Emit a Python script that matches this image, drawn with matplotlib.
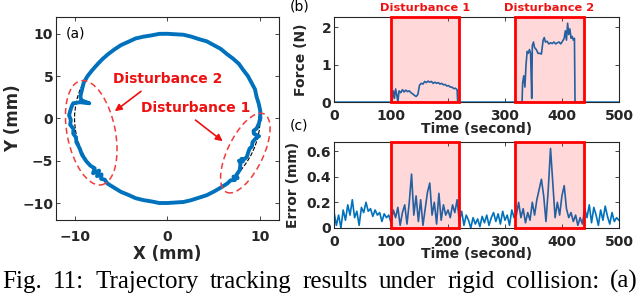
import numpy as np
import matplotlib.pyplot as plt
from matplotlib.patches import Circle, Ellipse, Rectangle

### trajectory, polar form: angle (deg), radius (mm)
traj_ang = [0, 5, 10, 15, 20, 25, 30, 35, 40, 45, 50, 55, 60, 65, 70, 75, 80, 85, 90,
            95, 100, 105, 110, 115, 120, 125, 130, 135, 140, 145, 150,
            155, 158, 160, 163, 165, 167, 168, 168.5, 170, 172, 175, 178, 181, 184, 187,
            190, 193, 196, 200, 205, 210, 214, 217, 219, 220, 222, 223, 225, 227, 230, 235,
            240, 245, 250, 255, 260, 265, 270, 275, 280, 285, 290, 295, 300,
            305, 310, 313, 315, 316, 317, 318, 320, 322, 324, 326, 327, 328, 329, 330,
            332, 335, 338, 340, 343, 346, 348, 349, 351, 353, 355, 357, 360]
traj_r = [10.0, 10.05, 10.0, 9.95, 10.05, 10.0, 10.02, 9.98, 10.05, 10.0, 9.95, 10.03, 10.0,
          10.05, 9.97, 10.0, 10.04, 9.98, 10.0, 10.03, 9.96, 10.0, 10.05, 9.98, 10.0, 9.95,
          9.92, 9.9, 9.88, 9.9, 9.95,
          9.95, 9.85, 9.8, 9.75, 9.7, 9.5, 8.6, 9.6, 10.3, 10.4, 10.5, 10.6, 10.4, 10.5, 10.2,
          10.3, 10.1, 10.2, 10.1, 10.15, 10.1, 10.0, 9.8, 10.3, 9.6, 10.2, 9.7, 10.1, 9.9,
          10.05, 10.0,
          10.02, 9.97, 10.03, 10.0, 9.96, 10.04, 10.0, 9.98, 10.03, 10.0, 9.97, 10.02, 10.0,
          10.0, 10.05, 10.0, 10.3, 9.9, 10.35, 10.0, 9.95, 9.9, 9.7, 9.5, 9.2, 9.6, 9.3, 9.6,
          9.7, 9.6, 9.55, 9.7, 9.6, 9.8, 10.1, 9.5, 9.4, 9.7, 9.8, 9.9, 10.0]

### panel (b): contact force
force_t = [0, 100, 102, 104, 106, 108, 110, 112, 114, 117, 120, 123, 126, 129, 132, 135,
           138, 141, 144, 147, 150, 153, 156, 159, 162, 165, 168, 171, 174, 177, 180, 183,
           186, 189, 192, 195, 198, 201, 204, 207, 210, 213, 216, 217,
           330, 331, 333, 335, 337, 339, 341, 343, 345, 347, 348, 350, 352, 355, 358, 361,
           364, 367, 369, 371, 374, 377, 380, 383, 386, 389, 392, 395, 398, 401, 404, 406,
           408, 410, 412, 414, 416, 418, 420, 422, 423, 500]
force_v = [0, 0, 0.05, 0.3, 0.1, 0.35, 0.2, 0.0, 0.3, 0.25, 0.33, 0.27, 0.32, 0.28, 0.30,
           0.25, 0.22, 0.18, 0.15, 0.2, 0.45, 0.5, 0.48, 0.55, 0.52, 0.56, 0.53, 0.55, 0.5,
           0.53, 0.5, 0.52, 0.48, 0.5, 0.46, 0.47, 0.43, 0.44, 0.4, 0.4, 0.36, 0.37, 0.33, 0.0,
           0.0, 0.5, 0.7, 0.4, 1.0, 1.35, 1.3, 1.4, 1.3, 0.1, 1.5, 1.6, 1.45, 1.4, 1.3, 1.3,
           1.28, 1.65, 1.72, 1.6, 1.62, 1.55, 1.58, 1.56, 1.6, 1.55, 1.58, 1.6, 1.55, 1.62,
           1.7, 1.9, 1.65, 2.1, 1.8, 1.95, 1.7, 1.75, 1.65, 1.7, 0.0, 0.0]

### panel (c): tracking error, one sample every 4 s
err_t = np.arange(0, 504, 4)
err_v = [0.12, 0.02, 0.10, 0.00, 0.14, 0.06, 0.18, 0.10, 0.22, 0.08, 0.13, 0.02, 0.16,
         0.12, 0.20, 0.13, 0.15, 0.09, 0.14, 0.10, 0.12, 0.05, 0.11, 0.08, 0.10,
         0.04, 0.14, 0.08, 0.16, 0.02, 0.12, 0.18, 0.03, 0.20, 0.42, 0.10, 0.25, 0.05,
         0.22, 0.02, 0.15, 0.28, 0.35, 0.10, 0.20, 0.03, 0.27, 0.06, 0.18, 0.10, 0.14,
         0.08, 0.18, 0.12, 0.22,
         0.05, 0.13, 0.02, 0.10, 0.06, 0.00, 0.08, 0.03, 0.07, 0.01, 0.09, 0.04, 0.10,
         0.02, 0.08, 0.12, 0.05, 0.11, 0.03, 0.13, 0.06, 0.10, 0.02, 0.14, 0.08,
         0.10, 0.20, 0.08, 0.15, 0.04, 0.12, 0.06, 0.20, 0.10, 0.22, 0.30, 0.38, 0.25,
         0.05, 0.30, 0.62, 0.35, 0.08, 0.20, 0.10, 0.25, 0.33, 0.15, 0.08, 0.12, 0.05,
         0.10, 0.02, 0.08, 0.03,
         0.15, 0.08, 0.18, 0.04, 0.16, 0.10, 0.02, 0.14, 0.06, 0.17, 0.09, 0.03, 0.12,
         0.05, 0.08, 0.06]

dist_start = [100, 318]
dist_end = [220, 438]
dist_names = ['Disturbance 1', 'Disturbance 2']

caption = 'Fig. 11: Trajectory tracking results under rigid collision: (a)'

blue = '#0072BD'
axcol = '#262626'
red = '#ee1111'
plt.rcParams['font.family'] = ['DejaVu Sans']
plt.rcParams['font.weight'] = 'bold'


def style_axes(ax, xpad):
    ax.tick_params(direction='in', top=True, right=True, length=3, width=0.6,
                   labelsize=10, colors=axcol, pad=2)
    ax.tick_params(axis='x', pad=xpad)
    for s in ax.spines.values():
        s.set_color(axcol)
        s.set_linewidth(0.8)
    for lab in ax.get_xticklabels() + ax.get_yticklabels():
        lab.set_fontweight('bold')


fig = plt.figure(figsize=(6.4, 2.96), dpi=100)

### (a) trajectory
ax1 = fig.add_axes([0.0875, 0.257, 0.348, 0.686])
ang = np.deg2rad(traj_ang)
tx = np.array(traj_r) * np.cos(ang)
ty = np.array(traj_r) * np.sin(ang)
ax1.add_patch(Circle((0, 0), 10, fill=False, ls='--', lw=0.8, color='k', zorder=1))
ax1.plot(tx, ty, color=blue, lw=2.8, zorder=2, solid_joinstyle='round')
ax1.add_patch(Ellipse((-8.2, -1.7), 5.2, 12.5, angle=10, fill=False, ls=(0, (4, 2.5)),
                      lw=1.1, color='#f03c3c', zorder=3))
ax1.add_patch(Ellipse((8.4, -4.1), 3.9, 10.1, angle=-23, fill=False, ls=(0, (4, 2.5)),
                      lw=1.1, color='#f03c3c', zorder=3))
ax1.text(0, 4.6, 'Disturbance 2', color=red, fontsize=10, fontweight='bold',
         ha='center', va='center')
ax1.text(3.05, 1.25, 'Disturbance 1', color=red, fontsize=10, fontweight='bold',
         ha='center', va='center')
ax1.annotate('', xy=(-5.9, 0.65), xytext=(-2.6, 3.4),
             arrowprops=dict(arrowstyle='-|>', color=red, lw=1.2, mutation_scale=10))
ax1.annotate('', xy=(6.2, -2.9), xytext=(2.8, 0.0),
             arrowprops=dict(arrowstyle='-|>', color=red, lw=1.2, mutation_scale=10))
ax1.text(-10.9, 10, '(a)', fontsize=10, fontweight='normal', va='center', ha='left')
ax1.set_xlim(-12, 12)
ax1.set_ylim(-12, 12)
ax1.set_xticks([-10, 0, 10])
ax1.set_yticks([-10, -5, 0, 5, 10])
ax1.set_xlabel('X (mm)', fontsize=12, fontweight='bold', color=axcol, labelpad=1)
ax1.set_ylabel('Y (mm)', fontsize=12, fontweight='bold', color=axcol, labelpad=0)
style_axes(ax1, 7)

### (b) force
ax2 = fig.add_axes([0.522, 0.655, 0.445, 0.288])
ax2.plot(force_t, force_v, color=blue, lw=1.2, zorder=2)
ax2.set_xlim(0, 500)
ax2.set_ylim(0, 2.27)
ax2.set_xticks([0, 100, 200, 300, 400, 500])
ax2.set_yticks([0, 1, 2])
ax2.set_xlabel('Time (second)', fontsize=10, fontweight='bold', color=axcol, labelpad=-1)
ax2.set_ylabel('Force (N)', fontsize=10, fontweight='bold', color=axcol, labelpad=10)
style_axes(ax2, 5)

### (c) error
ax3 = fig.add_axes([0.522, 0.23, 0.445, 0.29])
ax3.plot(err_t, err_v, color=blue, lw=1.2, zorder=2)
ax3.set_xlim(0, 500)
ax3.set_ylim(0, 0.67)
ax3.set_xticks([0, 100, 200, 300, 400, 500])
ax3.set_yticks([0, 0.2, 0.4, 0.6])
ax3.set_yticklabels(['0', '0.2', '0.4', '0.6'])
ax3.set_xlabel('Time (second)', fontsize=10, fontweight='bold', color=axcol, labelpad=-1)
ax3.set_ylabel('Error (mm)', fontsize=10, fontweight='bold', color=axcol, labelpad=5)
style_axes(ax3, 5)

for ax in (ax2, ax3):
    for s, e in zip(dist_start, dist_end):
        ax.add_patch(Rectangle((s, 0), e - s, 1, transform=ax.get_xaxis_transform(),
                               facecolor=(1, 0, 0, 0.15), edgecolor='red', lw=2,
                               zorder=3, clip_on=False))

for s, e, name in zip(dist_start, dist_end, dist_names):
    ax2.text((s + e) / 2, 1.04, name, transform=ax2.get_xaxis_transform(), color=red,
             fontsize=8.2, fontweight='bold', ha='center', va='bottom')

fig.text(290 / 640, 1 - 7 / 296, '(b)', fontsize=10, fontweight='normal', va='center')
fig.text(290 / 640, 1 - 125 / 296, '(c)', fontsize=10, fontweight='normal', va='center')

### caption, justified over the full width like in the paper
words = caption.split()
cap_texts = [fig.text(0, 1 - 288 / 296, w, family='Liberation Serif', fontweight='normal',
                      fontsize=18, va='baseline', ha='left') for w in words]
renderer = fig.canvas.get_renderer()
widths = [t.get_window_extent(renderer).width for t in cap_texts]
x0, x1 = 2, 638
gap = (x1 - x0 - sum(widths)) / (len(words) - 1)
xpos = x0
for t, w in zip(cap_texts, widths):
    t.set_x(xpos / 640)
    xpos += w + gap

fig.savefig('out.png', dpi=100)
